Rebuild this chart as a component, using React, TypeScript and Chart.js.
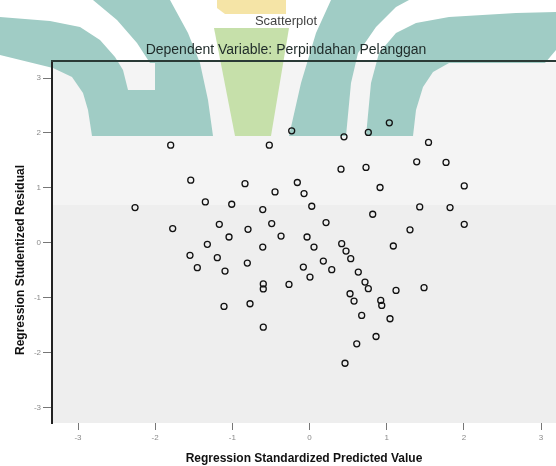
import React, { useEffect, useRef } from "react";
import { Chart, registerables } from "chart.js";

Chart.register(...registerables);

// ---- data ----
const predictedValues = [
  -1.799, -1.539, -0.836, -2.261, -1.35, -1.008, -1.773, -1.169, -1.043, -0.797,
  -0.231, -0.521, 0.447, 0.762, 1.034, 1.542, 1.389, 1.769, 0.408, 0.732,
  -0.158, -0.447, -0.071, 0.914, 2.005, -0.606, 0.029, 1.428, 1.821, 0.819,
  -0.49, 0.214, 2.005, 1.302, -0.369, -0.032, -1.324, -0.606, -1.549, -1.195,
  -1.454, -1.095, -0.806, -0.599, -0.599, -0.266, -1.108, -0.771, -0.599, 0.058,
  0.417, 0.473, 1.086, -0.08, 0.006, 0.179, 0.288, 0.534, 0.632, 0.719,
  0.762, 0.525, 0.577, 0.923, 0.936, 1.121, 1.484, 0.676, 1.043, 0.862,
  0.612, 0.46,
];
const residualValues = [
  1.778, 1.14, 1.076, 0.642, 0.744, 0.702, 0.259, 0.337, 0.106, 0.246,
  2.039, 1.778, 1.93, 2.01, 2.185, 1.827, 1.474, 1.463, 1.341, 1.372,
  1.098, 0.927, 0.897, 1.007, 1.036, 0.606, 0.666, 0.653, 0.642, 0.52,
  0.35, 0.368, 0.337, 0.237, 0.122, 0.106, -0.027, -0.077, -0.228, -0.27,
  -0.452, -0.514, -0.368, -0.748, -0.839, -0.757, -1.158, -1.109, -1.536, -0.077,
  -0.015, -0.15, -0.058, -0.441, -0.624, -0.332, -0.489, -0.288, -0.533, -0.715,
  -0.835, -0.927, -1.061, -1.049, -1.14, -0.866, -0.817, -1.322, -1.382, -1.705,
  -1.838, -2.192,
];
const xTickValues = [-3, -2, -1, 0, 1, 2, 3];
const yTickValues = [-3, -2, -1, 0, 1, 2, 3];
const xRange = [-3.337, 3.194];
const yRange = [-3.28, 3.31];

const chartTitle = "Scatterplot";
const chartSubtitle = "Dependent Variable: Perpindahan Pelanggan";
const xAxisTitle = "Regression Standardized Predicted Value";
const yAxisTitle = "Regression Studentized Residual";

// ---- decorative watermark overlay (pixel outlines of the logo) ----
const watermarkTeal: number[][][] = [
  [
    [0, 17], [50, 21], [80, 27], [100, 40], [115, 57], [123, 70], [128, 90],
    [155, 90], [155, 63], [150, 63], [137, 43], [117, 20], [93, 0], [170, 0],
    [188, 33], [200, 63], [208, 100], [213, 136], [92, 136], [88, 110],
    [83, 93], [72, 77], [53, 68], [0, 55],
  ],
  [
    [331, 0], [409, 0], [396, 7], [376, 27], [358, 53], [351, 83], [346, 136],
    [289, 136], [301, 83], [316, 33],
  ],
  [
    [366, 136], [371, 83], [379, 53], [396, 33], [416, 23], [449, 17],
    [516, 13], [556, 12], [556, 50], [545, 63], [449, 63], [433, 72],
    [423, 87], [416, 110], [413, 136],
  ],
];
const watermarkGreen: number[][] = [[214, 28], [289, 28], [271, 136], [235, 136]];
const watermarkYellow: number[][] = [[217, 0], [286, 0], [286, 14], [225, 14], [217, 8]];

function fillPoly(ctx: CanvasRenderingContext2D, pts: number[][], color: string) {
  ctx.beginPath();
  pts.forEach((p, i) => (i === 0 ? ctx.moveTo(p[0], p[1]) : ctx.lineTo(p[0], p[1])));
  ctx.closePath();
  ctx.fillStyle = color;
  ctx.fill();
}

const backgroundPlugin = {
  id: "spssBackground",
  beforeDraw(chart: any) {
    const { ctx, chartArea: a, width, height } = chart;
    ctx.save();
    ctx.fillStyle = "#ffffff";
    ctx.fillRect(0, 0, width, height);
    ctx.fillStyle = "#eeeeee";
    ctx.fillRect(a.left, a.top, a.right - a.left, a.bottom - a.top);
    ctx.fillStyle = "#f4f4f4";
    ctx.fillRect(a.left, a.top, a.right - a.left, 205 - a.top);
    watermarkTeal.forEach((poly) => fillPoly(ctx, poly, "#a0ccc5"));
    fillPoly(ctx, watermarkGreen, "#c6e0aa");
    fillPoly(ctx, watermarkYellow, "#f5e4a6");
    ctx.restore();
  },
  afterDraw(chart: any) {
    const { ctx, chartArea: a } = chart;
    ctx.save();
    ctx.strokeStyle = "#2a3a36";
    ctx.lineWidth = 2;
    ctx.beginPath();
    ctx.moveTo(a.left - 1, a.top);
    ctx.lineTo(a.right, a.top);
    ctx.stroke();
    // y axis title (SPSS places it slightly below the axis centre)
    ctx.translate(21, 260);
    ctx.rotate(-Math.PI / 2);
    ctx.font = "bold 12px 'Liberation Sans', Arial, sans-serif";
    ctx.fillStyle = "#111111";
    ctx.textAlign = "center";
    ctx.textBaseline = "middle";
    ctx.fillText(yAxisTitle, 0, 0);
    ctx.restore();
  },
};

export default function App() {
  const canvasRef = useRef<HTMLCanvasElement | null>(null);

  useEffect(() => {
    document.body.style.margin = "0";
    const canvas = canvasRef.current;
    if (!canvas) return;
    Chart.defaults.font.family = "'Liberation Sans', Arial, sans-serif";

    const points = predictedValues.map((x, i) => ({ x, y: residualValues[i] }));

    const chart = new Chart(canvas, {
      type: "scatter",
      data: {
        datasets: [
          {
            data: points,
            pointRadius: 3,
            pointBorderWidth: 1.3,
            pointBorderColor: "#111111",
            pointBackgroundColor: "rgba(0,0,0,0)",
            pointStyle: "circle",
          },
        ],
      },
      options: {
        animation: false,
        responsive: false,
        maintainAspectRatio: false,
        layout: { autoPadding: false, padding: { left: 16, top: 0, right: 0, bottom: 0 } },
        plugins: {
          legend: { display: false },
          tooltip: { enabled: false },
          title: {
            display: true,
            text: chartTitle,
            color: "#444444",
            font: { size: 13, weight: "normal" },
            padding: { top: 14, bottom: 0 },
          },
          subtitle: {
            display: true,
            text: chartSubtitle,
            color: "#1e2a28",
            font: { size: 14, weight: "normal" },
            padding: { top: 12, bottom: 2.6 },
          },
        },
        scales: {
          x: {
            type: "linear",
            min: xRange[0],
            max: xRange[1],
            afterBuildTicks: (s: any) => {
              s.ticks = xTickValues.map((v) => ({ value: v }));
            },
            afterFit: (s: any) => {
              s.height = 43;
              s.paddingLeft = 0;
              s.paddingRight = 0;
            },
            ticks: {
              color: "#8a8a8a",
              font: { size: 8 },
              padding: 3,
              callback: (v: any) => String(v),
            },
            grid: {
              drawOnChartArea: false,
              drawTicks: true,
              tickLength: 7,
              tickColor: "#777777",
            },
            border: { display: false },
            title: {
              display: true,
              text: xAxisTitle,
              color: "#111111",
              font: { size: 12, weight: "bold", lineHeight: 1.2 },
              padding: { top: 0, bottom: 0.5 },
            },
          },
          y: {
            type: "linear",
            min: yRange[0],
            max: yRange[1],
            afterBuildTicks: (s: any) => {
              s.ticks = yTickValues.map((v) => ({ value: v }));
            },
            afterFit: (s: any) => {
              s.width = 36;
              s.paddingTop = 0;
              s.paddingBottom = 0;
            },
            ticks: {
              color: "#8a8a8a",
              font: { size: 8 },
              padding: 2,
              callback: (v: any) => String(v),
            },
            grid: {
              drawOnChartArea: false,
              drawTicks: true,
              tickLength: 9,
              tickColor: "#777777",
            },
            border: { display: true, color: "#222222", width: 2 },
            title: { display: false, text: yAxisTitle },
          },
        },
      },
      plugins: [backgroundPlugin],
    });

    return () => chart.destroy();
  }, []);

  return (
    <canvas
      ref={canvasRef}
      width={556}
      height={466}
      style={{ display: "block", width: 556, height: 466 }}
    />
  );
}
